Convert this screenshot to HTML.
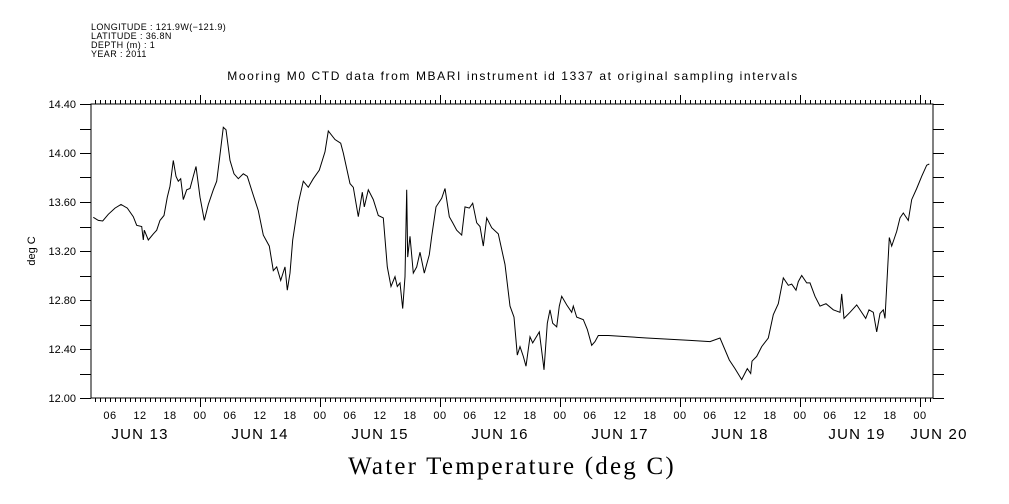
<!DOCTYPE html>
<html><head><meta charset="utf-8">
<style>
body{margin:0;background:#fff;}
svg{display:block;font-family:"Liberation Sans",sans-serif;}
</style></head>
<body>
<svg id="chart" width="1009" height="504" viewBox="0 0 1009 504" xmlns="http://www.w3.org/2000/svg">
<rect width="1009" height="504" fill="#fff"/>
<g font-size="9" fill="#000" letter-spacing="0.4">
<text x="91" y="30">LONGITUDE : 121.9W(−121.9)</text>
<text x="91" y="39">LATITUDE : 36.8N</text>
<text x="91" y="48">DEPTH (m) : 1</text>
<text x="91" y="57">YEAR : 2011</text>
</g>
<text x="513" y="80" font-size="12" text-anchor="middle" letter-spacing="1.6">Mooring M0 CTD data from MBARI instrument id 1337 at original sampling intervals</text>
<text x="512" y="474" font-size="25" text-anchor="middle" font-family="Liberation Serif,serif" letter-spacing="2.2">Water Temperature (deg C)</text>
<text transform="translate(35,251) rotate(-90)" font-size="11" text-anchor="middle">deg C</text>
<g id="axes"></g>
<g id="series"></g>
</svg>
<script>
const hours = [2.66,3.66,4.54,5.66,7.0,8.2,9.46,10.66,11.34,12.34,12.66,12.86,13.66,14.66,15.34,16.0,16.8,17.46,18.0,18.66,19.2,19.66,20.14,20.66,21.34,22.0,22.66,23.2,24.0,24.86,25.66,26.66,27.34,27.86,28.66,29.2,30.0,30.8,31.66,32.66,33.46,34.54,35.66,36.66,37.86,38.66,39.34,40.14,41.0,41.46,42.0,42.54,43.66,44.66,45.66,46.66,47.86,49.0,49.66,51.0,52.14,52.66,54.0,54.66,55.66,56.46,56.86,57.66,58.66,59.66,60.66,61.46,62.2,63.0,63.46,64.0,64.54,65.0,65.34,65.54,66.0,66.66,67.34,68.0,68.86,69.86,70.34,71.2,72.34,73.0,73.86,74.54,75.34,76.34,77.0,77.86,78.54,79.34,80.0,80.66,81.34,82.34,83.66,85.0,86.0,86.8,87.46,88.0,88.66,89.2,90.0,90.54,91.86,92.66,92.8,93.46,94.0,94.54,95.34,95.86,96.34,97.34,98.34,98.66,99.34,100.66,101.46,102.34,103.0,103.66,105.66,113.34,122.0,126.0,128.0,129.86,131.0,132.34,133.46,134.14,134.4,135.34,136.34,137.66,138.66,139.66,140.66,141.66,142.34,143.2,143.66,144.34,145.34,146.0,147.0,148.0,149.2,150.66,152.0,152.34,152.8,154.0,155.34,157.14,157.8,158.66,159.34,160.0,160.66,161.0,161.86,162.34,163.34,164.0,164.66,165.66,166.34,167.34,168.34,169.34,169.86];
const temps = [13.475,13.45,13.445,13.50,13.55,13.58,13.55,13.48,13.41,13.40,13.29,13.37,13.29,13.34,13.37,13.45,13.49,13.64,13.73,13.94,13.81,13.77,13.79,13.62,13.70,13.71,13.81,13.89,13.64,13.45,13.58,13.70,13.77,13.94,14.21,14.19,13.94,13.83,13.79,13.83,13.81,13.67,13.53,13.33,13.24,13.04,13.07,12.96,13.07,12.88,13.02,13.29,13.59,13.77,13.72,13.79,13.86,14.01,14.18,14.11,14.08,14.00,13.75,13.72,13.48,13.68,13.56,13.70,13.62,13.49,13.47,13.07,12.91,12.99,12.91,12.94,12.73,12.99,13.70,13.15,13.32,13.02,13.07,13.19,13.02,13.17,13.32,13.56,13.63,13.71,13.48,13.43,13.37,13.33,13.56,13.55,13.59,13.43,13.40,13.24,13.47,13.39,13.34,13.09,12.75,12.66,12.35,12.42,12.34,12.26,12.50,12.45,12.54,12.28,12.23,12.61,12.72,12.61,12.58,12.75,12.83,12.76,12.70,12.75,12.66,12.64,12.56,12.43,12.46,12.51,12.51,12.49,12.47,12.46,12.49,12.31,12.24,12.15,12.24,12.20,12.30,12.34,12.42,12.49,12.68,12.77,12.98,12.92,12.93,12.88,12.95,13.00,12.94,12.94,12.83,12.75,12.77,12.72,12.70,12.85,12.65,12.70,12.76,12.65,12.72,12.70,12.54,12.69,12.72,12.65,13.31,13.24,13.36,13.47,13.51,13.45,13.62,13.71,13.81,13.90,13.91];
const yTickLabels = ["12.00","12.40","12.80","13.20","13.60","14.00","14.40"];
const hourLabels = ["06","12","18","00"];
const dayLabels = ["JUN 13","JUN 14","JUN 15","JUN 16","JUN 17","JUN 18","JUN 19","JUN 20"];

const X0=91, X1=933, Y0=398, Y1=104;
const T0=2.2, T1=170.6, V0=12.0, V1=14.4;
function xs(h){return X0+(h-T0)/(T1-T0)*(X1-X0);}
function ys(v){return Y0-(v-V0)/(V1-V0)*(Y0-Y1);}
const NS="http://www.w3.org/2000/svg";
const axes=document.getElementById('axes'), series=document.getElementById('series');
function mk(tag,attrs,parent){const e=document.createElementNS(NS,tag);for(const k in attrs)e.setAttribute(k,attrs[k]);parent.appendChild(e);return e;}

const frame=mk('rect',{x:X0,y:Y1,width:X1-X0,height:Y0-Y1,fill:'none',stroke:'#000','stroke-width':1},axes);



for(let i=0;i<=12;i++){
  const v=V0+i*0.2, y=Math.round(ys(v))+0.5;
  const t1=mk('line',{x1:X0-11,y1:y,x2:X0,y2:y,stroke:'#000'},axes);
  
  
  const t2=mk('line',{x1:X1,y1:y,x2:X1+11,y2:y,stroke:'#000'},axes);
  
  
}
yTickLabels.forEach(s=>{
  const t=mk('text',{x:X0-15,y:ys(parseFloat(s))+4,'font-size':11,'text-anchor':'end'},axes);
  t.textContent=s;
  
  
});
for(let h=Math.ceil(T0);h<=T1;h++){
  const x=Math.round(xs(h))+0.5, major=(h%24===0);
  const b=mk('line',{x1:x,y1:Y0,x2:x,y2:Y0+(major?9:4),stroke:'#000'},axes);
  
  
  const t=mk('line',{x1:x,y1:Y1,x2:x,y2:Y1-(major?9:4),stroke:'#000'},axes);
  
  
  if(h%6===0){
    const lab=mk('text',{x:xs(h),y:419,'font-size':11,'text-anchor':'middle','letter-spacing':0.5},axes);
    lab.textContent=hourLabels[(h/6+3)%4];
    
    
  }
}
dayLabels.forEach((s,i)=>{
  let h=i*24+12; if(i===7) h=i*24+0;
  let x=xs(h); if(i===6) x-=3; if(i===7) x+=19;
  const t=mk('text',{x:x,y:439,'font-size':15,'text-anchor':'middle','letter-spacing':1.2},axes);
  t.textContent=s;
  
  
});
let d='';
hours.forEach((h,i)=>{d+=(i?'L':'M')+xs(h).toFixed(1)+' '+ys(temps[i]).toFixed(1);});
const line=mk('path',{d:d,fill:'none',stroke:'#000','stroke-width':1},series);


</script>
</body></html>
